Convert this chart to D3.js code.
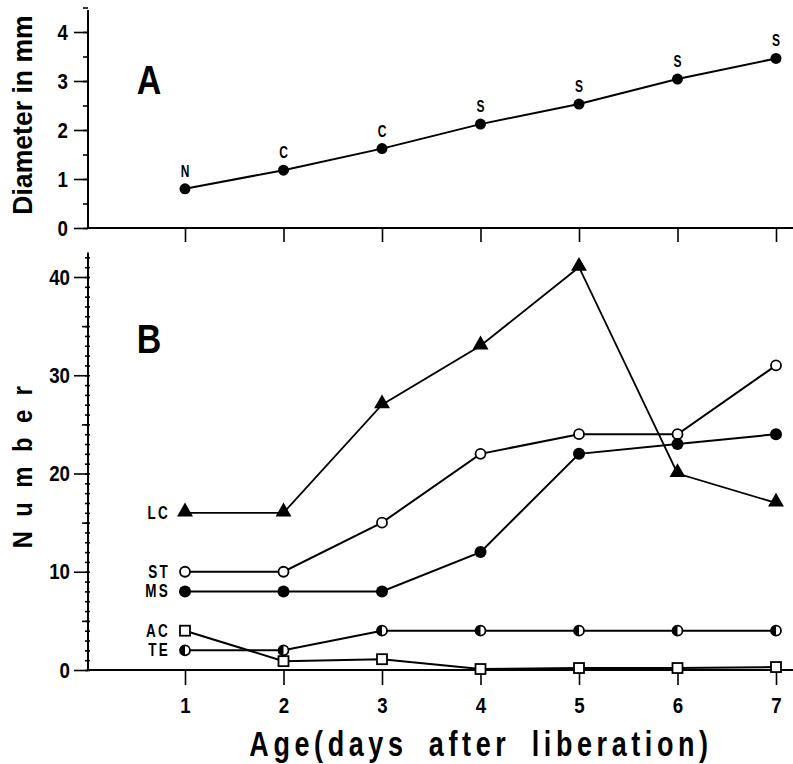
<!DOCTYPE html>
<html lang="en">
<head>
<meta charset="utf-8">
<title>Diameter and number by age</title>
<script src="https://cdn.jsdelivr.net/npm/d3@7"></script>
<style>
  body { margin: 0; background: #fff; }
  text { font-family: "Liberation Sans", Arial, sans-serif; font-weight: bold; fill: #000; }
  .axis path, .axis line { stroke: #000; }
  .axis path { stroke-width: 2; }
  .axis line { stroke-width: 1.6; }
  .axis text { font-size: 22px; }
</style>
</head>
<body>
<script>
// days after liberation
var days = [1, 2, 3, 4, 5, 6, 7];

// panel A: diameter (mm) and stage letter
var diameter = [0.8, 1.18, 1.62, 2.12, 2.53, 3.04, 3.46];
var stage = ["N", "C", "C", "S", "S", "S", "S"];

// panel B: counts per series
var LC = [16, 16, 27, 33, 41, 20, 17];
var ST = [10, 10, 15, 22, 24, 24, 31];
var MS = [8, 8, 8, 12, 22, 23, 24];
var TE = [2, 2, 4, 4, 4, 4, 4];
var AC = [4, 0.9, 1.1, 0.1, 0.2, 0.2, 0.3];

var ticksA = [0, 1, 2, 3, 4];
var ticksB = [0, 10, 20, 30, 40];

var w = 793, h = 764;
var left = 88;
var narrow = 0.8;   // horizontal squeeze for the condensed look

var svg = d3.select("body").append("svg")
    .attr("width", w)
    .attr("height", h);

var x = d3.scaleLinear().domain([1, 7]).range([185, 776]);
var yA = d3.scaleLinear().domain([0, 4]).range([228, 32]);
var yB = d3.scaleLinear().domain([0, 40]).range([670, 277]);

// text squeezed horizontally (in its own direction)
function label(parent, px, py, str, size, o) {
    o = o || {};
    var g = parent.append("g")
        .attr("transform", "translate(" + px + "," + py + ") rotate(" + (o.rotate || 0) + ") scale(" + (o.sx || narrow) + ",1)");
    var t = g.append("text")
        .attr("text-anchor", o.anchor || "middle")
        .attr("font-size", size + "px")
        .text(str);
    if (o.ls) t.attr("letter-spacing", o.ls + "px");
    if (o.ws) t.attr("word-spacing", o.ws + "px");
    return t;
}

function squeezeTicks(g, sx) {
    g.selectAll(".tick text").each(function() {
        var t = d3.select(this);
        var xx = +t.attr("x") || 0;
        t.attr("x", xx / sx).attr("transform", "scale(" + sx + ",1)");
    });
}

// ---------- panel A ----------
var gA = svg.append("g");

// minor ticks (every 0.5)
gA.append("g")
    .attr("class", "axis")
    .attr("transform", "translate(" + left + ",0)")
    .call(d3.axisLeft(yA).tickValues(d3.range(0, 4.6, 0.5)).tickSize(5).tickFormat(""))
    .call(function(g) { g.select(".domain").remove(); });

gA.append("g")
    .attr("class", "axis")
    .attr("transform", "translate(" + left + ",0)")
    .call(d3.axisLeft(yA).tickValues(ticksA).tickSize(14).tickPadding(6).tickSizeOuter(0).tickFormat(d3.format("d")))
    .call(function(g) {
        g.select(".domain").attr("d", "M0," + yA(4.45) + "V" + yA(0));
        squeezeTicks(g, 0.85);
    });

gA.append("g")
    .attr("class", "axis")
    .attr("transform", "translate(0," + yA(0) + ")")
    .call(d3.axisBottom(x).tickValues(days).tickSize(14).tickFormat(""))
    .call(function(g) {
        g.select(".domain").attr("d", "M" + left + ",0H" + w);
    });

gA.append("path")
    .datum(days)
    .attr("fill", "none")
    .attr("stroke", "#000")
    .attr("stroke-width", 2)
    .attr("d", d3.line().x(function(d) { return x(d); }).y(function(d, i) { return yA(diameter[i]); }));

gA.selectAll("circle.pt")
    .data(days)
    .enter().append("circle")
    .attr("class", "pt")
    .attr("cx", function(d) { return x(d); })
    .attr("cy", function(d, i) { return yA(diameter[i]); })
    .attr("r", 5.5)
    .attr("fill", "#000");

days.forEach(function(d, i) {
    label(gA, x(d), yA(diameter[i]) - 12, stage[i], 16, { sx: 0.75 });
});

label(gA, 149, 94, "A", 40, { sx: 0.85 });

label(svg, 32, 115, "Diameter in mm", 28, { rotate: -90, sx: 0.95 });

// ---------- panel B ----------
var gB = svg.append("g");

gB.append("g")
    .attr("class", "axis")
    .attr("transform", "translate(" + (left + 2) + ",0)")
    .call(d3.axisLeft(yB).tickValues(d3.range(0, 43, 1)).tickSize(5).tickFormat(""))
    .call(function(g) { g.select(".domain").remove(); });

gB.append("g")
    .attr("class", "axis")
    .attr("transform", "translate(" + left + ",0)")
    .call(d3.axisLeft(yB).tickValues(d3.range(5, 40, 10)).tickSize(6).tickFormat(""))
    .call(function(g) { g.select(".domain").remove(); });

gB.append("g")
    .attr("class", "axis")
    .attr("transform", "translate(" + left + ",0)")
    .call(d3.axisLeft(yB).tickValues(ticksB).tickSize(14).tickPadding(4).tickSizeOuter(0).tickFormat(d3.format("d")))
    .call(function(g) {
        g.select(".domain").attr("d", "M0," + yB(42.5) + "V" + yB(0));
        squeezeTicks(g, 0.85);
    });

gB.append("g")
    .attr("class", "axis")
    .attr("transform", "translate(0," + yB(0) + ")")
    .call(d3.axisBottom(x).tickValues(days).tickSize(15).tickPadding(12).tickFormat(d3.format("d")))
    .call(function(g) {
        g.select(".domain").attr("d", "M" + left + ",0H" + w);
        squeezeTicks(g, 0.85);
    });

var series = [
    { name: "LC", values: LC, mark: "triangle" },
    { name: "ST", values: ST, mark: "open" },
    { name: "MS", values: MS, mark: "filled" },
    { name: "AC", values: AC, mark: "square" },
    { name: "TE", values: TE, mark: "half" }
];

var line = d3.line()
    .x(function(d) { return x(d[0]); })
    .y(function(d) { return yB(d[1]); });

series.forEach(function(s) {
    var pts = days.map(function(d, i) { return [d, s.values[i]]; });

    gB.append("path")
        .datum(pts)
        .attr("fill", "none")
        .attr("stroke", "#000")
        .attr("stroke-width", s.name === "LC" ? 1.8 : 2)
        .attr("d", line);

    var m = gB.selectAll("g.m-" + s.name)
        .data(pts)
        .enter().append("g")
        .attr("class", "m-" + s.name)
        .attr("transform", function(d) { return "translate(" + x(d[0]) + "," + yB(d[1]) + ")"; });

    if (s.mark === "triangle") {
        m.append("path")
            .attr("d", d3.symbol().type(d3.symbolTriangle).size(110))
            .attr("transform", "translate(0,-1)")
            .attr("fill", "#000");
    } else if (s.mark === "open") {
        m.append("circle").attr("r", 5).attr("fill", "#fff").attr("stroke", "#000").attr("stroke-width", 1.8);
    } else if (s.mark === "filled") {
        m.append("circle").attr("r", 6).attr("fill", "#000");
    } else if (s.mark === "square") {
        m.append("rect").attr("x", -5).attr("y", -5).attr("width", 10).attr("height", 10)
            .attr("fill", "#fff").attr("stroke", "#000").attr("stroke-width", 1.8);
    } else {
        m.append("circle").attr("r", 5).attr("fill", "#fff").attr("stroke", "#000").attr("stroke-width", 1.8);
        m.append("path").attr("d", d3.arc()({ innerRadius: 0, outerRadius: 5, startAngle: Math.PI, endAngle: 2 * Math.PI }))
            .attr("fill", "#000");
    }

    label(gB, x(1) - 15, yB(s.values[0]) + 6, s.name, 18, { anchor: "end", sx: 0.75, ls: 3 });
});

label(gB, 149, 353, "B", 40, { sx: 0.85 });

label(svg, 32, 460, "Number", 28, { rotate: -90, sx: 0.85, ls: 17 });

label(svg, 481, 756, "Age(days after liberation)", 35, { sx: 0.77, ls: 6, ws: 12 });
</script>
</body>
</html>
